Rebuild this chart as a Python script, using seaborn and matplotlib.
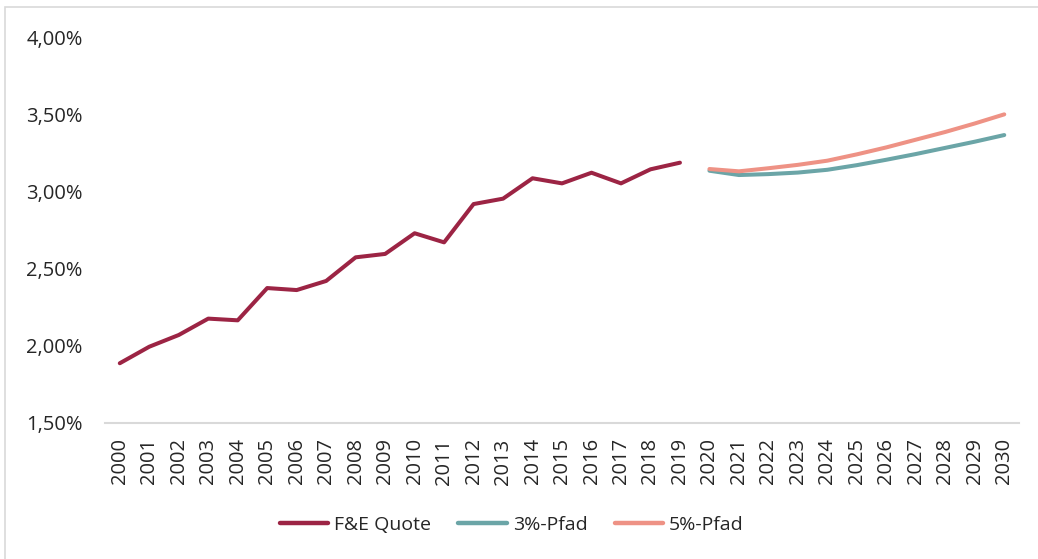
import numpy as np
import pandas as pd
import matplotlib
matplotlib.use("Agg")
import matplotlib.pyplot as plt
import seaborn as sns
from matplotlib.patches import Rectangle
from matplotlib.ticker import FuncFormatter

# ---------------------------------------------------------------------------
# data (percent)
# ---------------------------------------------------------------------------
years_hist = list(range(2000, 2020))
fue_quote = [1.887, 1.994, 2.070, 2.176, 2.165, 2.374, 2.361, 2.420, 2.573, 2.595,
             2.729, 2.670, 2.918, 2.953, 3.085, 3.052, 3.121, 3.052, 3.143, 3.186]

years_proj = list(range(2020, 2031))
pfad_3 = [3.134, 3.106, 3.112, 3.122, 3.140, 3.170, 3.205, 3.242, 3.282, 3.322, 3.365]
pfad_5 = [3.145, 3.130, 3.150, 3.172, 3.199, 3.240, 3.285, 3.335, 3.385, 3.440, 3.499]

series_names = ["F&E Quote", "3%-Pfad", "5%-Pfad"]
colors = ["#9C2444", "#6BA5A7", "#EE9285"]

df = pd.concat([
    pd.DataFrame({"Jahr": years_hist, "Wert": fue_quote, "Reihe": series_names[0]}),
    pd.DataFrame({"Jahr": years_proj, "Wert": pfad_3, "Reihe": series_names[1]}),
    pd.DataFrame({"Jahr": years_proj, "Wert": pfad_5, "Reihe": series_names[2]}),
])

# ---------------------------------------------------------------------------
# plot
# ---------------------------------------------------------------------------
sns.set_style("white")
plt.rcParams["font.family"] = ["Open Sans", "DejaVu Sans"]

fig = plt.figure(figsize=(10.38, 5.59), dpi=100)
ax = fig.add_axes([0.1012, 0.2433, 0.8805, 0.6905])

sns.lineplot(data=df, x="Jahr", y="Wert", hue="Reihe", hue_order=series_names,
             palette=colors, linewidth=2.9, ax=ax, legend=False)

ax.set_xlim(1999.5, 2030.5)
ax.set_ylim(1.5, 4.0)
ax.set_xticks(list(range(2000, 2031)))
ax.set_xticklabels([str(y) for y in range(2000, 2031)], rotation=90, fontsize=14.5)
ax.set_yticks([1.5, 2.0, 2.5, 3.0, 3.5, 4.0])
ax.yaxis.set_major_formatter(FuncFormatter(lambda v, p: f"{v:.2f}%".replace(".", ",")))
ax.tick_params(axis="y", labelsize=14.5, length=0, pad=16)
ax.tick_params(axis="x", length=0, pad=11)
ax.set_xlabel("")
ax.set_ylabel("")
for side in ["top", "right", "left"]:
    ax.spines[side].set_visible(False)
ax.spines["bottom"].set_color("#D9D9D9")
ax.spines["bottom"].set_linewidth(1.5)

handles = [plt.Line2D([], [], color=c, lw=3.2) for c in colors]
fig.legend(handles, series_names, loc="center", bbox_to_anchor=(0.493, 0.061),
           ncol=3, frameon=False, fontsize=14, handlelength=2.5,
           handletextpad=0.3, columnspacing=1.4)

# chart area border like the original
fig.patches.append(Rectangle((5 / 1038, -0.1), 1.2, (559 - 7) / 559 + 0.1,
                             transform=fig.transFigure, fill=False,
                             edgecolor="#D9D9D9", linewidth=1.2))

fig.savefig("out.png", dpi=100)
